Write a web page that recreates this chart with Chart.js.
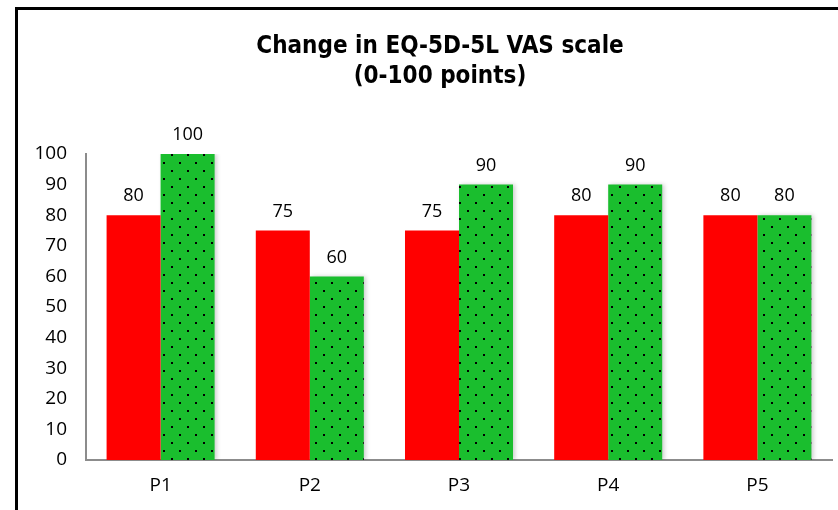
<!DOCTYPE html>
<html>
<head>
<meta charset="utf-8">
<script src="https://cdn.jsdelivr.net/npm/chart.js@4"></script>
<style>
  html, body { margin: 0; padding: 0; background: #fff; }
  #wrap { position: relative; width: 838px; height: 510px; }
</style>
</head>
<body>
<div id="wrap"><canvas id="chart"></canvas></div>
<script>
const categories = ["P1", "P2", "P3", "P4", "P5"];
const before_values = [80, 75, 75, 80, 80];
const after_values = [100, 60, 90, 90, 80];
const title_lines = ["Change in EQ-5D-5L VAS scale", "(0-100 points)"];

Chart.defaults.font.family = "'Open Sans', sans-serif";
Chart.defaults.color = "#000";

function dotPattern() {
  const c = document.createElement("canvas");
  c.width = 16;
  c.height = 16;
  const g = c.getContext("2d");
  g.fillStyle = "#1abe2e";
  g.fillRect(0, 0, 16, 16);
  g.fillStyle = "#000";
  g.fillRect(3, 2, 2, 2);
  g.fillRect(11, 10, 2, 2);
  return g.createPattern(c, "repeat");
}

// outer frame of the figure, and nudge the title box right
const framePlugin = {
  id: "frame",
  afterLayout(chart) {
    if (chart.titleBlock) chart.titleBlock.left = 48;
  },
  afterDraw(chart) {
    const ctx = chart.ctx;
    ctx.save();
    ctx.strokeStyle = "#000";
    ctx.lineWidth = 3;
    ctx.beginPath();
    ctx.moveTo(16.5, 520);
    ctx.lineTo(16.5, 8.5);
    ctx.lineTo(850, 8.5);
    ctx.stroke();
    ctx.restore();
  },
};

// value labels above the bars
const labelPlugin = {
  id: "valueLabels",
  afterDatasetsDraw(chart) {
    const ctx = chart.ctx;
    ctx.save();
    ctx.font = "18px 'Open Sans', sans-serif";
    ctx.fillStyle = "#000";
    ctx.textAlign = "center";
    ctx.textBaseline = "bottom";
    chart.data.datasets.forEach((ds, i) => {
      chart.getDatasetMeta(i).data.forEach((bar, j) => {
        ctx.fillText(String(ds.data[j]), bar.x, bar.y - 10);
      });
    });
    ctx.restore();
  },
};

// soft shadow on the green bars
const shadowPlugin = {
  id: "barShadow",
  beforeDatasetDraw(chart, args) {
    if (args.index !== 1) return;
    const ctx = chart.ctx;
    ctx.save();
    ctx.shadowColor = "rgba(0,0,0,0.2)";
    ctx.shadowBlur = 4;
    ctx.shadowOffsetX = 2;
    ctx.shadowOffsetY = 0;
  },
  afterDatasetDraw(chart, args) {
    if (args.index !== 1) return;
    chart.ctx.restore();
  },
};

new Chart(document.getElementById("chart"), {
  type: "bar",
  data: {
    labels: categories,
    datasets: [{
      label: "Before",
      data: before_values,
      backgroundColor: "#ff0000",
      borderWidth: 0,
    }, {
      label: "After",
      data: after_values,
      backgroundColor: dotPattern(),
      borderWidth: 0,
    }],
  },
  options: {
    responsive: true,
    maintainAspectRatio: false,
    animation: false,
    datasets: {
      bar: {
        categoryPercentage: 0.724,
        barPercentage: 1.0,
      },
    },
    layout: {
      padding: { top: 8, right: 6, left: 0, bottom: 0 },
    },
    plugins: {
      legend: { display: false },
      tooltip: { enabled: false },
      title: {
        display: true,
        text: title_lines,
        color: "#000",
        font: { family: "'DejaVu Sans Condensed', 'DejaVu Sans', sans-serif", size: 24, weight: "bold", lineHeight: 1.25 },
        padding: { top: 24, bottom: 62 },
      },
    },
    scales: {
      x: {
        grid: { display: false, drawTicks: false },
        border: { color: "#8c8c8c", width: 2 },
        ticks: { font: { size: 19 }, padding: 14 },
        afterFit(scale) { scale.height = 50; },
      },
      y: {
        min: 0,
        max: 100,
        grid: { display: false, drawTicks: false },
        border: { color: "#8c8c8c", width: 2 },
        ticks: { stepSize: 10, font: { size: 19 }, padding: 19 },
        afterFit(scale) { scale.width = 86; },
      },
    },
  },
  plugins: [framePlugin, labelPlugin, shadowPlugin],
});
</script>
</body>
</html>
